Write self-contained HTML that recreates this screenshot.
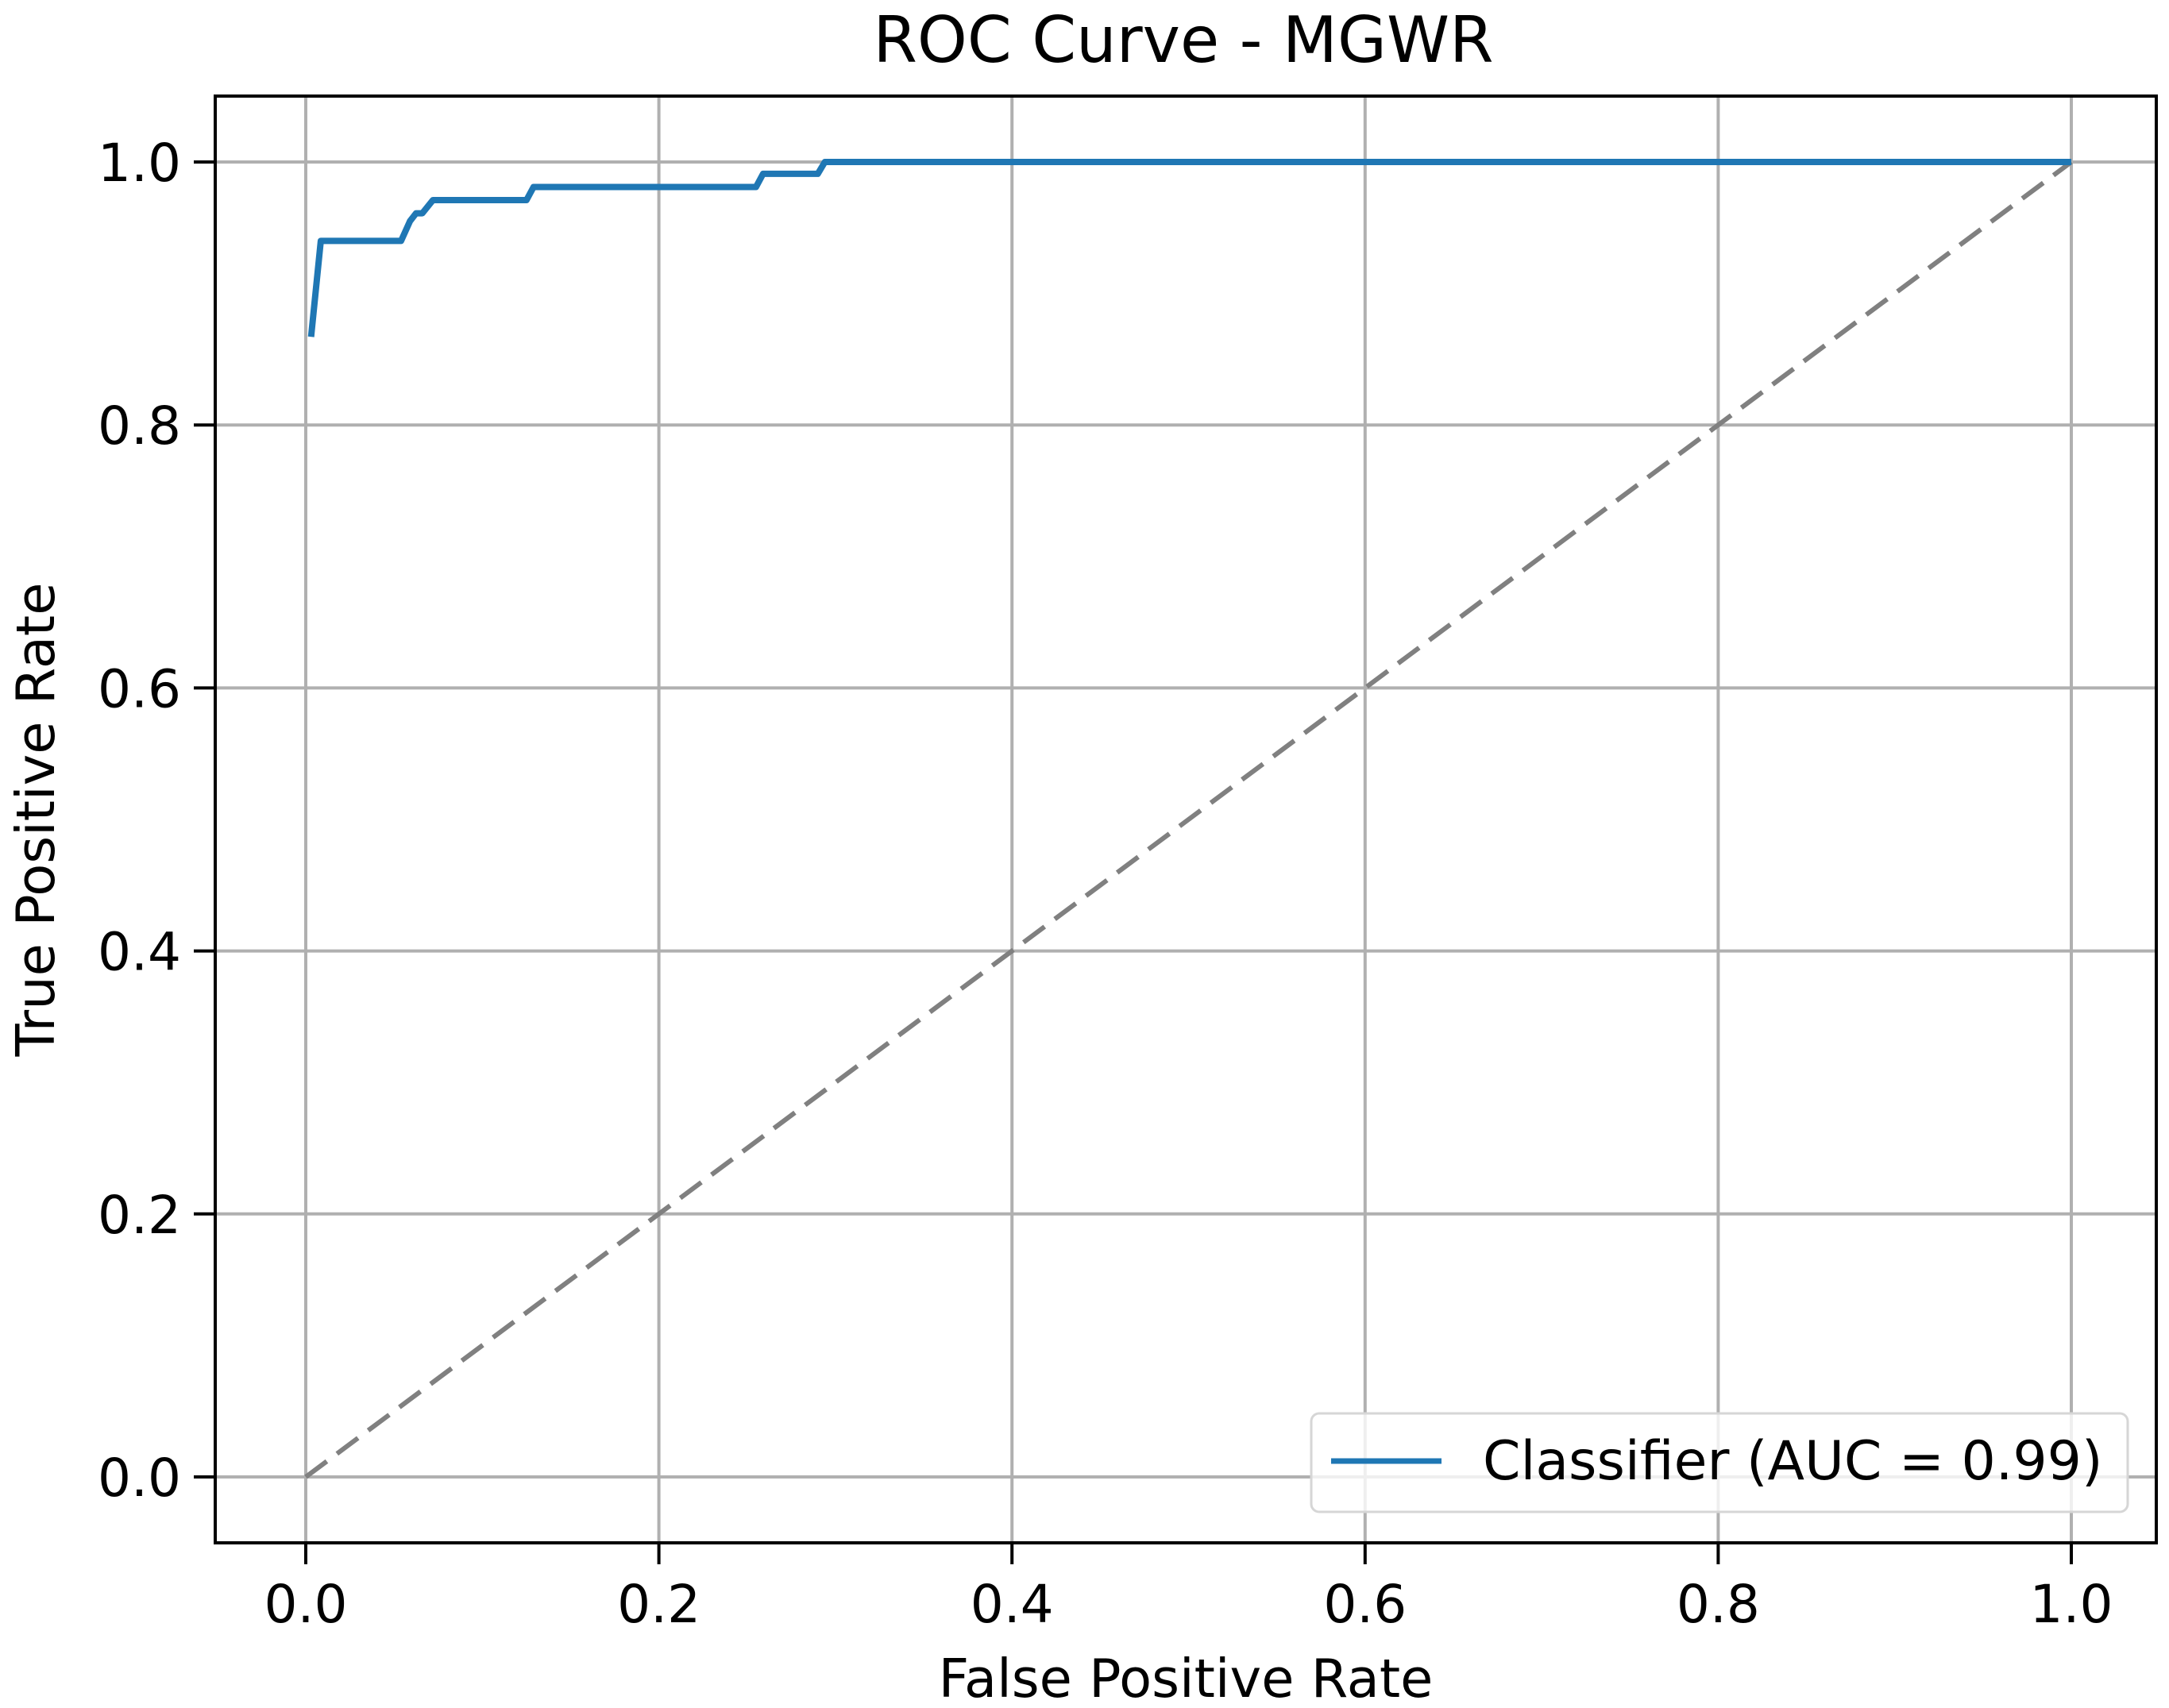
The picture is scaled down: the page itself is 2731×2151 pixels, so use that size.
<!DOCTYPE html>
<html><head><meta charset="utf-8"><style>
html,body{margin:0;padding:0;background:#fff;}
svg{display:block;font-family:"DejaVu Sans","Liberation Sans",sans-serif;}
</style></head><body>
<svg id="chart" width="2731" height="2151" viewBox="0 0 2731 2151" xmlns="http://www.w3.org/2000/svg">
<rect x="0" y="0" width="2731" height="2151" fill="#fff"/>
<text x="1490" y="78" font-size="80" text-anchor="middle" fill="#000">ROC Curve - MGWR</text>
<g id="grid"></g>
<g id="ticks"></g>
<g id="series"></g>
<rect x="271" y="121" width="2444" height="1822" fill="none" stroke="#000" stroke-width="4"/>
<text x="1493" y="2137" font-size="67" text-anchor="middle" fill="#000">False Positive Rate</text>
<text x="0" y="0" font-size="67" text-anchor="middle" fill="#000" transform="translate(68,1032) rotate(-90)">True Positive Rate</text>
<g>
<rect x="1651" y="1780" width="1028" height="124" rx="10" fill="#fff" fill-opacity="0.8" stroke="#d6d6d6" stroke-width="3"/>
<line x1="1676" y1="1840" x2="1815" y2="1840" stroke="#1f77b4" stroke-width="7"/>
<text x="1867" y="1863" font-size="68" fill="#000">Classifier (AUC = 0.99)</text>
</g>
</svg>
<script>
const fprValues = [0.003, 0.0085, 0.054, 0.059, 0.0625, 0.066, 0.072, 0.125, 0.129, 0.255, 0.259, 0.29, 0.294, 1.0];
const tprValues = [0.867, 0.940, 0.940, 0.955, 0.961, 0.961, 0.971, 0.971, 0.981, 0.981, 0.991, 0.991, 1.0, 1.0];
const chanceX = [0, 1];
const chanceY = [0, 1];
const xTicks = [0, 0.2, 0.4, 0.6, 0.8, 1.0];
const yTicks = [0, 0.2, 0.4, 0.6, 0.8, 1.0];
const xTickLabels = ["0.0", "0.2", "0.4", "0.6", "0.8", "1.0"];
const yTickLabels = ["0.0", "0.2", "0.4", "0.6", "0.8", "1.0"];

const NS = "http://www.w3.org/2000/svg";
const X0 = 385, X1 = 2608, Y0 = 1860, Y1 = 204;
const AX_L = 271, AX_R = 2715, AX_T = 121, AX_B = 1943;
function xs(v){ return X0 + (X1 - X0) * v; }
function ys(v){ return Y0 + (Y1 - Y0) * v; }
function mk(tag, attrs, parent){
  const el = document.createElementNS(NS, tag);
  for (const k in attrs) el.setAttribute(k, attrs[k]);
  parent.appendChild(el);
  return el;
}
const grid = document.getElementById("grid");
const ticks = document.getElementById("ticks");
const series = document.getElementById("series");

xTicks.forEach((v, i) => {
  const g = mk("line", {x1: xs(v), x2: xs(v), y1: AX_T, y2: AX_B, stroke: "#b0b0b0", "stroke-width": 4}, grid);
  
  
  const t = mk("line", {x1: xs(v), x2: xs(v), y1: AX_B, y2: AX_B + 27, stroke: "#000", "stroke-width": 4}, ticks);
  
  
  const l = mk("text", {x: xs(v), y: 2043, "font-size": 66, "text-anchor": "middle", fill: "#000"}, ticks);
  l.textContent = xTickLabels[i];
  
  
});
yTicks.forEach((v, i) => {
  const g = mk("line", {x1: AX_L, x2: AX_R, y1: ys(v), y2: ys(v), stroke: "#b0b0b0", "stroke-width": 4}, grid);
  
  
  const t = mk("line", {x1: AX_L - 27, x2: AX_L, y1: ys(v), y2: ys(v), stroke: "#000", "stroke-width": 4}, ticks);
  
  
  const l = mk("text", {x: 228, y: ys(v) + 24, "font-size": 66, "text-anchor": "end", fill: "#000"}, ticks);
  l.textContent = yTickLabels[i];
  
  
});

const chance = mk("line", {x1: xs(chanceX[0]), y1: ys(chanceY[0]), x2: xs(chanceX[1]), y2: ys(chanceY[1]), stroke: "#808080", "stroke-width": 6, "stroke-dasharray": "33 16"}, series);



const pts = fprValues.map((v, i) => xs(v).toFixed(1) + "," + ys(tprValues[i]).toFixed(1)).join(" ");
const roc = mk("polyline", {points: pts, fill: "none", stroke: "#1f77b4", "stroke-width": 8, "stroke-linejoin": "round"}, series);


</script>
</body></html>
